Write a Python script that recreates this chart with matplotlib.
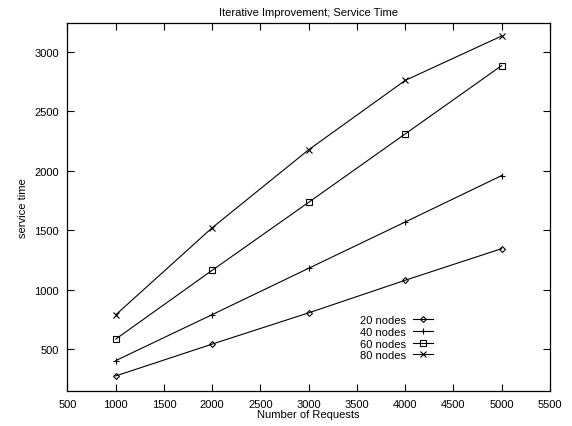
import matplotlib
matplotlib.use("Agg")
import matplotlib.pyplot as plt

requests = [1000, 2000, 3000, 4000, 5000]
nodes20 = [274, 542, 805, 1079, 1345]
nodes40 = [403, 790, 1180, 1569, 1960]
nodes60 = [584, 1163, 1735, 2310, 2885]
nodes80 = [788, 1521, 2177, 2760, 3134]
labels = ["20 nodes", "40 nodes", "60 nodes", "80 nodes"]
xticks = [500, 1000, 1500, 2000, 2500, 3000, 3500, 4000, 4500, 5000, 5500]
yticks = [500, 1000, 1500, 2000, 2500, 3000]

plt.rcParams['font.family'] = ['Liberation Sans', 'DejaVu Sans']
plt.rcParams['font.size'] = 8

fig = plt.figure(figsize=(5.72, 4.27), dpi=100)
ax = fig.add_axes([0.118, 0.0827, 0.8435, 0.8603])

series = [nodes20, nodes40, nodes60, nodes80]
markers = ['D', '+', 's', 'x']
msizes = [3.0, 4.5, 4.2, 4.2]
for vals, lab, m, ms in zip(series, labels, markers, msizes):
    ax.plot(requests, vals, color='black', linewidth=0.8, marker=m,
            markersize=ms, markerfacecolor='none', markeredgecolor='black',
            markeredgewidth=0.8, label=lab)

ax.set_xlim(500, 5500)
ax.set_ylim(150, 3240)
ax.set_xticks(xticks)
ax.set_yticks(yticks)
ax.tick_params(direction='in', length=5, width=0.8, top=True, right=True,
               labelsize=8, pad=6, colors='black')
for s in ax.spines.values():
    s.set_linewidth(0.9)

ax.set_title("Iterative Improvement; Service Time", fontsize=8, pad=6)
ax.set_xlabel("Number of Requests", fontsize=8, labelpad=0)
ax.set_ylabel("service time", fontsize=8, labelpad=5)

leg = ax.legend(loc='upper left', bbox_to_anchor=(0.606, 0.205), frameon=False,
                markerfirst=False, numpoints=1, handlelength=1.8,
                handletextpad=0.6, labelspacing=0.15, borderpad=0,
                borderaxespad=0, fontsize=8)

fig.savefig("out.png", dpi=100)
